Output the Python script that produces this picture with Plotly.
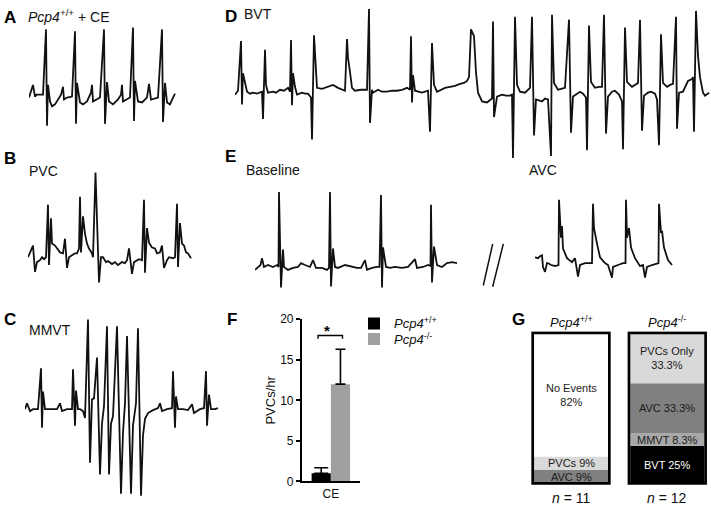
import plotly.graph_objects as go

# ---------------- data (time in ms-like units, amplitude in arbitrary units) ----------------
A_ECG = [(0,-1),(4,12),(6,0),(7.5,2),(14,2),(17,69),(18,-30),(19,12),(21,-5),(23,-10),(26,-8),(29,-3),(32,2),(34,10),(35,-3),(38,-1),(43,0),(46,67),(47,-28),(48,14),(51,-6),(54,-8),(58,-5),(62,4),(63,12),(64,-5),(71,-1),(75,69),(76,-28),(78,15),(80,-5),(84,-8),(89,-3),(92,2),(93,12),(94,-5),(101,-1),(104,71),(105,-25),(106,16),(109,-5),(113,-6),(118,-1),(120,13),(122,-3),(129,-1),(133,69),(134,-26),(136,14),(138,-6),(141,-8),(144,-1),(146,3)]

B_ECG = [(0,0),(5,12),(7,-15),(9,-5),(12,-3),(14,0),(16,-2),(18,0),(20,54),(21,-8),(23,40),(24,14),(27,12),(29,9),(32,5),(35,4),(37,19),(39,-11),(41,0),(44,2),(47,4),(49,4),(51,9),(52,62),(53,5),(55,42),(57,24),(59,14),(61,9),(64,4),(65,0),(67.5,87),(71,-26),(73,0),(75,0),(78,-5),(80,-4),(84,-7),(87,-5),(90,-8),(94,-5),(97,-6),(99,-3),(101,9),(104,-17),(106,-5),(109,-3),(111,-2),(114,-3),(116,59),(117,-16),(119,30),(121,15),(124,10),(127,9),(129,4),(132,5),(134,12),(136,-11),(139,-3),(141,0),(145,-1),(147,0),(149,55),(150,-10),(152,35),(154,14),(156,12),(158,5),(160,4),(163,-1)]

C_ECG = [(0,0),(2,6),(5,-2),(8,0),(13,0),(16,42),(17,-19),(18,18),(20,0),(25,0),(32,0),(35,6),(37,-2),(42,0),(47,0),(48,41),(50,-17),(51,19),(53,0),(55,0),(58,-2),(60,-9),(63,92),(65,-55),(67,10),(69,11),(72,53),(75,-67),(77,-15),(79,3),(82,85),(84,-67),(86,-15),(88,-7),(92,85),(96,-87),(98,-24),(100,6),(102,75),(106,-87),(108,-17),(111,6),(113,83),(116,-89),(118,-27),(120,-10),(123,-4),(128,-1),(133,1),(135,6),(137,-2),(142,0),(147,1),(148,39),(150,-19),(151,13),(153,0),(158,0),(163,-1),(167,5),(169,-4),(175,0),(179,1),(181,39),(182,-17),(184,15),(186,0),(190,0),(193,1)]

D_ECG = [(0,-2),(3,2),(6,53),(7,-12),(8,20),(10,10),(12,1),(15,-1),(18,0),(22,-1),(27,1),(28,-27),(30,44),(31,8),(33,0),(38,1),(41,0),(45,3),(49,2),(53,5),(55,1),(56,54),(57,-13),(58,20),(60,6),(62,-2),(67,0),(70,-1),(73,-1),(76,-5),(77,-48),(79,59),(81,11),(82,5),(87,4),(90,5),(93,6),(98,8),(103,5),(107,3),(110,2),(112,55),(113,36),(115,21),(117,5),(120,2),(126,3),(132,3),(134,86),(135,-31),(137,3),(138,0),(143,3),(147,1),(152,1),(157,2),(162,2),(167,3),(172,5),(175,3),(176,58),(177,-10),(178,18),(180,2),(187,0),(193,2),(195,-40),(197,51),(199,8),(202,1),(206,3),(210,5),(215,6),(220,7),(225,9),(229,10),(232,12),(234,16),(236,65),(238,60),(239,58),(241,21),(243,0),(247,-9),(252,-10),(257,-6),(258,73),(259,-25),(262,-4),(267,-2),(271,-3),(275,-3),(277,-2),(278,-67),(280,78),(282,8),(285,1),(290,0),(295,5),(297,78),(299,-44),(301,-7),(304,-8),(307,-9),(310,-6),(313,-7),(316,-65),(317,80),(319,10),(323,3),(326,4),(330,5),(334,75),(336,-41),(338,-4),(341,-2),(345,1),(348,-1),(351,-5),(352,-59),(354,69),(356,11),(360,5),(364,6),(367,6),(369,80),(371,-42),(373,-4),(377,1),(380,2),(384,-2),(387,-9),(388,-58),(390,67),(392,11),(397,6),(400,8),(403,10),(405,75),(407,-39),(409,-3),(413,0),(416,1),(420,-1),(422,-7),(424,-54),(426,60),(428,10),(432,6),(435,8),(438,9),(441,78),(442,-37),(444,0),(448,1),(453,12),(457,14),(458,16),(459,-40),(461,84),(463,38),(465,16),(468,0),(470,-3),(474,0)]

E_BASELINE_ECG = [(0,-3),(3,0),(5.5,2),(7,9),(9,0),(13,2),(18,0),(22,2),(23.5,0),(24,77),(26,-21),(28,18),(29,0),(33,-3),(38,-1),(43,0),(46,4),(50,2),(55,0),(58,7),(61,-1),(67,-1),(72,-3),(74,-1),(75,77),(76,-20),(78,19),(80,0),(83,-1),(90,2),(97,0),(102,-1),(106,-1),(110,7),(112,-3),(117,-1),(122,0),(124.5,0),(126,74),(127,-21),(128,20),(131,0),(135,-1),(140,0),(147,-1),(153,0),(160,8),(162,-1),(168,0),(173,2),(175.5,1),(176,64),(177,-16),(179,21),(182,2),(187,0),(192,4),(197,5),(202,4)]

E_AVC_ECG = [(0,8),(3,7),(5,9),(7,10),(8,-2),(10,-7),(12,2),(13,2),(16,0),(20,-1),(23.5,0),(24,67),(26,28),(27,40),(28,17),(32,7),(37,3),(40,7),(43,-12),(45,0),(50,2),(55,2),(57,2),(58,63),(59,38),(62,22),(65,8),(70,2),(73,0),(77,-13),(78,-2),(83,0),(88,2),(90.5,2),(91,67),(92,28),(94,38),(96,18),(100,7),(105,-1),(108,0),(110,-13),(112,-2),(117,0),(122,2),(123.5,2),(124,63),(126,33),(127,35),(129,18),(133,5),(137,0)]

F_CONDITION = ["CE"]
F_WT_MEAN = [1.0]
F_WT_ERR = [0.7]
F_KO_MEAN = [12.0]
F_KO_ERR = [4.3]
F_YTICKS = [0, 5, 10, 15, 20]

G_GENOTYPES = ["Pcp4+/+", "Pcp4-/-"]
G_N = [11, 12]
G_BVT = [0.0, 25.0]
G_MMVT = [0.0, 8.3]
G_AVC = [9.0, 33.3]
G_PVC = [9.0, 33.3]
G_NONE = [82.0, 0.0]
G_BVT_TXT = [None, "BVT 25%"]
G_MMVT_TXT = [None, "MMVT 8.3%"]
G_AVC_TXT = ["AVC 9%", "AVC 33.3%"]
G_PVC_TXT = ["PVCs 9%", "PVCs Only<br>33.3%"]
G_NONE_TXT = ["No Events<br>82%", None]

# ---------------- layout helpers ----------------
W, H = 711, 532
FONT = "Liberation Sans, Arial, Helvetica, sans-serif"


def dom_x(p0, p1):
    return [p0 / W, p1 / W]


def dom_y(p0, p1):
    return [1 - p1 / H, 1 - p0 / H]


def italic(s, size):
    return f"<span style='font-style:italic;font-size:{size}px'>{s}</span>"


def sup(s, size):
    return f"<span style='font-size:{size}px'><sup>{s}</sup></span>"


fig = go.Figure()
layout = dict(
    width=W, height=H, margin=dict(l=0, r=0, t=0, b=0),
    paper_bgcolor="white", plot_bgcolor="rgba(0,0,0,0)",
    font=dict(family=FONT, size=13, color="#111"),
    barmode="group", bargap=0.34, bargroupgap=0,
    showlegend=True,
)

# ECG panels: (data, box x0,y0,x1,y1 in px, origin px)
ecg_panels = [
    (A_ECG, (29, 18, 177, 126), (29, 92)),
    (B_ECG, (28, 165, 192, 290), (28, 257)),
    (C_ECG, (25, 315, 220, 505), (25, 413)),
    (D_ECG, (235, 0, 711, 160), (235, 88)),
    (E_BASELINE_ECG, (255, 185, 460, 292), (255, 267)),
    (E_AVC_ECG, (535, 195, 675, 285), (535, 265)),
]

for i, (pts, box, org) in enumerate(ecg_panels, start=1):
    xa = "x" if i == 1 else f"x{i}"
    ya = "y" if i == 1 else f"y{i}"
    fig.add_trace(go.Scatter(
        x=[p[0] for p in pts], y=[p[1] for p in pts], mode="lines",
        line=dict(color="#111", width=1.8), xaxis=xa, yaxis=ya,
        showlegend=False, hoverinfo="skip"))
    x0, y0, x1, y1 = box
    ox, oy = org
    layout["xaxis" if i == 1 else f"xaxis{i}"] = dict(
        domain=dom_x(x0, x1), range=[x0 - ox, x1 - ox], visible=False,
        anchor=ya, fixedrange=True)
    layout["yaxis" if i == 1 else f"yaxis{i}"] = dict(
        domain=dom_y(y0, y1), range=[oy - y1, oy - y0], visible=False,
        anchor=xa, fixedrange=True)

# ---------------- Panel F ----------------
WT_NAME = italic("Pcp4", 13) + sup("+/+", 13)
KO_NAME = italic("Pcp4", 13) + sup("-/-", 13)
fig.add_trace(go.Bar(
    x=F_CONDITION, y=F_WT_MEAN, name=WT_NAME, marker=dict(color="#000000", line=dict(width=0)),
    error_y=dict(type="data", symmetric=False, array=F_WT_ERR, arrayminus=[0],
                 color="#000", thickness=1.6, width=7),
    xaxis="x7", yaxis="y7", hoverinfo="skip", legend="legend"))
fig.add_trace(go.Bar(
    x=F_CONDITION, y=F_KO_MEAN, name=KO_NAME, marker=dict(color="#a0a0a0", line=dict(width=0)),
    error_y=dict(type="data", symmetric=False, array=F_KO_ERR, arrayminus=[0],
                 color="#000", thickness=1.6, width=5),
    xaxis="x7", yaxis="y7", hoverinfo="skip", legend="legend2"))

layout["xaxis7"] = dict(domain=dom_x(301.7, 360), anchor="y7", type="category",
                        range=[-0.5, 0.5], showline=True, linecolor="#000", linewidth=1.5,
                        ticks="", showgrid=False, zeroline=False,
                        tickfont=dict(size=12, color="#111"), fixedrange=True)
layout["yaxis7"] = dict(domain=dom_y(320.7, 487.3), anchor="x7", range=[0, 20],
                        tickvals=F_YTICKS, ticks="outside", ticklen=4, tickwidth=1.5,
                        tickcolor="#000", showline=True, linecolor="#000", linewidth=1.5,
                        showgrid=False, zeroline=False, tickfont=dict(size=12, color="#111"),
                        title=dict(text="PVCs/hr", font=dict(size=13, color="#111"), standoff=2),
                        fixedrange=True)
for key, ypx in [("legend", 325), ("legend2", 341)]:
    layout[key] = dict(x=354 / W, y=1 - ypx / H, xanchor="left", yanchor="middle",
                       font=dict(size=13, color="#111"), bgcolor="rgba(0,0,0,0)",
                       itemwidth=30)

# ---------------- Panel G ----------------
g_layers = [
    (G_BVT, G_BVT_TXT, "#000000", "#ffffff"),
    (G_MMVT, G_MMVT_TXT, "#a8a8a8", "#1a1a1a"),
    (G_AVC, G_AVC_TXT, "#808080", "#1a1a1a"),
    (G_PVC, G_PVC_TXT, "#d9d9d9", "#1a1a1a"),
    (G_NONE, G_NONE_TXT, "#ffffff", "#1a1a1a"),
]
anns = []
base = [0.0] * len(G_GENOTYPES)
for vals, txt, col, tcol in g_layers:
    fig.add_trace(go.Bar(
        x=G_GENOTYPES, y=vals, base=list(base), width=0.77, offsetgroup="g",
        marker=dict(color=col, line=dict(width=0)),
        xaxis="x8", yaxis="y8", showlegend=False, hoverinfo="skip"))
    # segment labels placed at the middle of each stacked segment
    for g, b, v, t in zip(G_GENOTYPES, base, vals, txt):
        if t and v > 0:
            anns.append(dict(x=g, y=b + v / 2, xref="x8", yref="y8", text=t,
                             showarrow=False, xanchor="center", yanchor="middle",
                             font=dict(size=11, color=tcol, family=FONT)))
    base = [b + v for b, v in zip(base, vals)]

layout["xaxis8"] = dict(domain=dom_x(530, 711), anchor="y8", type="category",
                        categoryorder="array", categoryarray=G_GENOTYPES,
                        range=[-0.426, 1.454], showticklabels=False, showline=False,
                        showgrid=False, zeroline=False, ticks="", fixedrange=True)
layout["yaxis8"] = dict(domain=dom_y(333, 491), anchor="x8", range=[-1.1, 101.3],
                        visible=False, fixedrange=True)

shapes = []
for i in range(len(G_GENOTYPES)):
    shapes.append(dict(type="rect", xref="x8", yref="y8", x0=i - 0.398, x1=i + 0.398,
                       y0=0, y1=100.2, line=dict(color="#000", width=2.7),
                       fillcolor="rgba(0,0,0,0)", layer="above"))

# significance bracket in F
shapes.append(dict(type="path", xref="x7", yref="y7",
                   path="M -0.22,17.6 L -0.22,18 L 0.2,18 L 0.2,17.6",
                   line=dict(color="#000", width=1.4)))

# break marks between Baseline and AVC traces in E
for (xa, ya, xb, yb) in [(483.3, 286, 492.7, 243.3), (492.7, 287.3, 503.3, 243.3)]:
    shapes.append(dict(type="line", xref="paper", yref="paper",
                       x0=xa / W, y0=1 - ya / H, x1=xb / W, y1=1 - yb / H,
                       line=dict(color="#111", width=1.5)))
layout["shapes"] = shapes

# ---------------- text ----------------


def ann(x, y, text, size=14, anchor="left", color="#111", weight="normal"):
    anns.append(dict(x=x / W, y=1 - y / H, xref="paper", yref="paper", text=text,
                     showarrow=False, xanchor=anchor, yanchor="middle",
                     font=dict(size=size, color=color, family=FONT, weight=weight)))


for lab, x, y in [("A", 10, 11), ("D", 231, 10), ("B", 10, 156), ("E", 231, 154),
                  ("C", 10, 321), ("F", 232, 321), ("G", 518, 321)]:
    ann(x, y, lab, size=17, anchor="center", color="#000", weight="bold")

ann(26, 9, italic("Pcp4", 14) + sup("+/+", 14) + " + CE", size=14)
ann(242, 7, "BVT", size=14)
ann(27, 168, "PVC", size=14)
ann(27, 332, "MMVT", size=14)
ann(244, 167, "Baseline", size=14)
ann(527, 167, "AVC", size=14)

# F star
anns.append(dict(x=-0.07, y=18.0, xref="x7", yref="y7", text="*", showarrow=False,
                 xanchor="center", yanchor="bottom", yshift=-6,
                 font=dict(size=15, color="#000", family=FONT, weight="bold")))

# G titles and n
for g, sfx, n in zip(G_GENOTYPES, ["+/+", "-/-"], G_N):
    anns.append(dict(x=g, y=1 - 323 / H, xref="x8", yref="paper",
                     text=italic("Pcp4", 13) + sup(sfx, 13),
                     showarrow=False, xanchor="center", yanchor="middle",
                     font=dict(size=13, color="#111", family=FONT)))
    anns.append(dict(x=g, y=1 - 504 / H, xref="x8", yref="paper",
                     text=italic("n", 14) + f" = {n}",
                     showarrow=False, xanchor="center", yanchor="middle",
                     font=dict(size=14, color="#111", family=FONT)))

layout["annotations"] = anns
fig.update_layout(**layout)
fig.write_html("out.html", config={"displayModeBar": False},
               post_script="document.body.style.margin='0';document.body.style.padding='0';")
